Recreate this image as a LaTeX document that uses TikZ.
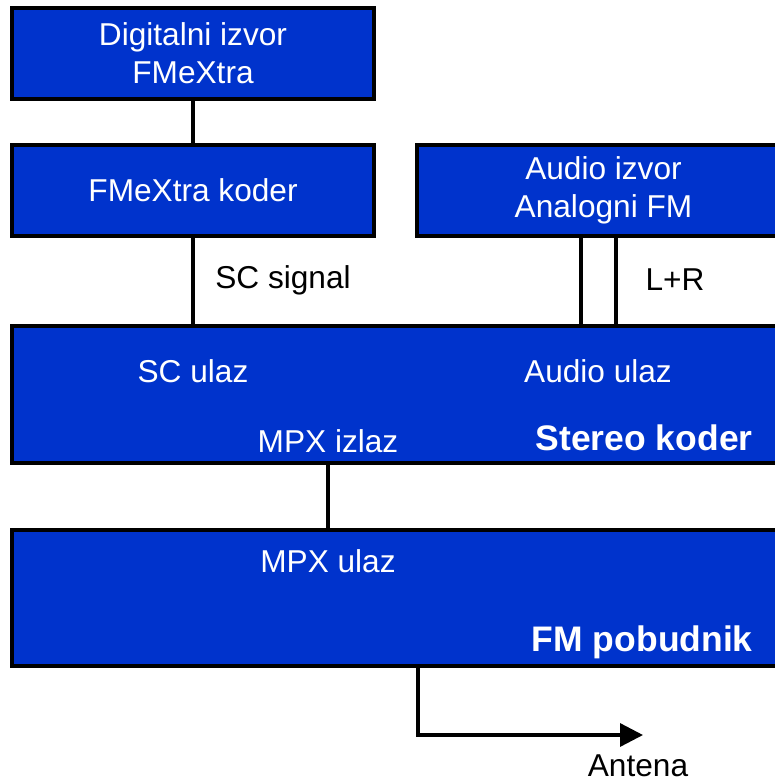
\documentclass[tikz,border=0pt]{standalone}
\usepackage{fontspec}
\setmainfont{Liberation Sans}
\usepackage{tikz}
\usetikzlibrary{arrows.meta, positioning, calc}
\definecolor{boxblue}{RGB}{0,51,204}

\begin{document}
\begin{tikzpicture}[x=0.02cm, y=-0.02cm,
    blok/.style={draw=black, fill=boxblue, line width=1.9pt, text=white,
      align=center, inner sep=0pt,
      font=\fontsize{18}{21.5}\selectfont},
    port/.style={text=white, inner sep=0pt, font=\fontsize{18}{21.5}\selectfont},
    naziv/.style={text=white, inner sep=0pt, font=\fontsize{20.2}{24}\selectfont\bfseries},
    oznaka/.style={inner sep=0pt, font=\fontsize{18}{21.5}\selectfont},
    veza/.style={draw=black, line width=1.9pt}]
  \useasboundingbox (0,0) rectangle (775,782);
  \clip (0,0) rectangle (775,782);
  % blokovi
  \node[blok, minimum width=7.24cm, minimum height=1.82cm] (digizvor) at (193,53.5)
    {Digitalni izvor\\FMeXtra};
  \node[blok, minimum width=7.24cm, minimum height=1.82cm] (koder) at (193,190.5)
    {FMeXtra koder};
  \node[blok, minimum width=7.46cm, minimum height=1.82cm] (audioizvor) at (603.5,190.5)
    {Audio izvor\\Analogni FM};
  \node[blok, minimum width=15.56cm, minimum height=2.74cm] (stereo) at (401,394.5) {};
  \node[blok, minimum width=15.56cm, minimum height=2.72cm] (pobudnik) at (401,598) {};
  % natpisi u blokovima
  \node[port] (sculaz) at (193,371) {SC ulaz};
  \node[port] (audioulaz) at (598,371) {Audio ulaz};
  \node[port] (mpxizlaz) at (328,441) {MPX izlaz};
  \node[naziv, anchor=east] (stereonaziv) at (753,438) {Stereo koder};
  \node[port] (mpxulaz) at (328,561) {MPX ulaz};
  \node[naziv, anchor=east] (fmnaziv) at (753,642) {FM pobudnik};
  % veze
  \coordinate (lk) at (581,0);
  \coordinate (dk) at (616,0);
  \coordinate (mpx) at (328,0);
  \coordinate (izl) at (418,0);
  \coordinate (antena) at (643,735);
  \draw[veza] (digizvor) -- (koder);
  \draw[veza] (koder.south) -- (koder.south |- stereo.north);
  \draw[veza] (audioizvor.south -| lk) -- (stereo.north -| lk);
  \draw[veza] (audioizvor.south -| dk) -- (stereo.north -| dk);
  \draw[veza] (stereo.south -| mpx) -- (pobudnik.north -| mpx);
  \draw[veza, -{Triangle[length=0.46cm, width=0.46cm]}]
    (pobudnik.south -| izl) |- (antena);
  \node[oznaka] (scsignal) at (283,280) {SC signal};
  \node[oznaka] (lr) at (675,280) {L+R};
  \node[oznaka] (antlbl) at (638,766) {Antena};
\end{tikzpicture}
\end{document}
